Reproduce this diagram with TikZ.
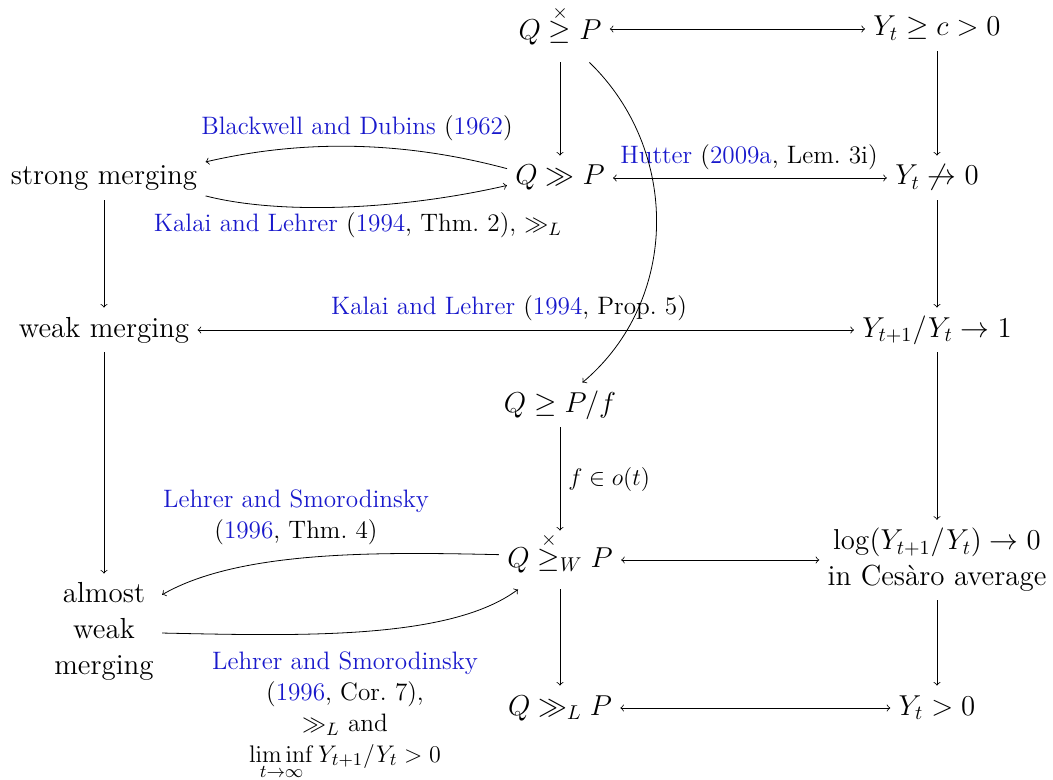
\documentclass[tikz,border=0pt]{standalone}
\usepackage{amsmath,amssymb}
\definecolor{citeblue}{rgb}{0.1,0.1,0.8}
\newcommand{\cb}[1]{\textcolor{citeblue}{#1}}
\newcommand{\xgeq}{\mathrel{\overset{\smash{\raisebox{-1.5pt}{$\scriptstyle\times$}}}{\geq}}}
\begin{document}
\begin{tikzpicture}[x=0.5pt,y=-0.5pt,>=to,
  mn/.style={font=\fontsize{14.5}{18}\selectfont, inner sep=4pt, text height=10.5pt, text depth=3.5pt},
  mt/.style={font=\fontsize{14.5}{18}\selectfont, inner sep=4pt, text height=14pt, text depth=7pt},
  mm/.style={font=\fontsize{14.5}{18}\selectfont, inner sep=4pt, align=center},
  lb/.style={font=\fontsize{12.6}{15.5}\selectfont, align=center, inner sep=0pt}]
\useasboundingbox (0,0) rectangle (1053,780);
% nodes
\node[mt] (A) at (560,33) {$Q \xgeq P$};
\node[mn] (B) at (937,29) {$Y_t \geq c > 0$};
\node[mn] (C) at (560,178) {$Q \gg P$};
\node[mn] (D) at (937,178) {$Y_t \not\to 0$};
\node[mn] (E) at (104,178) {strong merging};
\node[mn] (F) at (104,330) {weak merging};
\node[mn] (G) at (937,330) {$Y_{t+1}/Y_t \to 1$};
\node[mn] (H) at (560,405) {$Q \geq P/f$};
\node[mt] (I) at (560,560) {$Q \xgeq_W P$};
\node[mm] (J) at (937,560) {$\log(Y_{t+1}/Y_t) \to 0$\\in Ces\`aro average};
\node[mm] (K) at (104,631) {almost\\weak\\merging};
\node[mn] (L) at (560,708) {$Q \gg_L P$};
\node[mn] (M) at (937,708) {$Y_t > 0$};
% labels
\node[lb] (l1) at (357,128) {\cb{Blackwell and Dubins} (\cb{1962})};
\node[lb] (l2) at (358,225) {\cb{Kalai and Lehrer} (\cb{1994}, Thm.~2), $\gg_L$};
\node[lb] (l3) at (749,157) {\cb{Hutter} (\cb{2009a}, Lem.~3i)};
\node[lb] (l4) at (509,308) {\cb{Kalai and Lehrer} (\cb{1994}, Prop.~5)};
\node[lb,anchor=north] (l5) at (296,489) {\cb{Lehrer and Smorodinsky}\\(\cb{1996}, Thm.~4)};
\node[lb,anchor=north] (l6) at (345,651) {\cb{Lehrer and Smorodinsky}\\(\cb{1996}, Cor.~7),\\$\gg_L$ and\\$\liminf\limits_{t\to\infty} Y_{t+1}/Y_t > 0$};
% connectors
\draw[<->] (A.east |- B) -- (B);
\draw[->] (A) -- (C);
\draw[->] (B) -- (D);
\draw[->] (A.-45) .. controls (680,150) and (680,300) .. (H.45);
\draw[->] (C.170) .. controls (400,140) and (300,140) .. (E.9);
\draw[->] (E.-10) .. controls (280,215) and (400,210) .. (C.188);
\draw[<->] (C) -- (D);
\draw[->] (D) -- (G);
\draw[->] (E) -- (F);
\draw[<->] (F) -- (G);
\draw[->] (G) -- (J);
\draw[->] (F) -- (K);
\draw[->] (H) -- node[lb,right=4pt] {$f \in o(t)$} (I);
\draw[->] (I.175) .. controls (380,552) and (240,550) .. (K.32);
\draw[->] (K.-2) .. controls (300,636) and (450,640) .. (I.215);
\draw[<->] (I) -- (J);
\draw[->] (I) -- (L);
\draw[->] (J) -- (M);
\draw[<->] (L) -- (M);
\end{tikzpicture}
\end{document}
